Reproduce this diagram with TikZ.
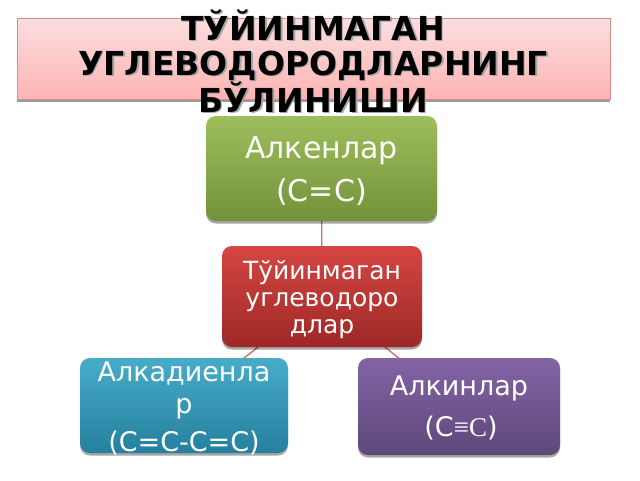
\documentclass[tikz,border=0pt]{standalone}
\usepackage{fontspec}
\setmainfont{DejaVu Sans}
\newfontfamily\serifsym{Liberation Serif}
\usetikzlibrary{shadows}
\pgfdeclarelayer{background}
\pgfsetlayers{background,main}
\definecolor{linkc}{RGB}{205,105,105}
\definecolor{tborder}{RGB}{215,140,140}
\definecolor{ttop}{RGB}{250,222,222}
\definecolor{tbot}{RGB}{255,180,180}
\definecolor{gtop}{RGB}{158,190,92}
\definecolor{gbot}{RGB}{116,146,58}
\definecolor{rtop}{RGB}{212,70,66}
\definecolor{rbot}{RGB}{158,40,38}
\definecolor{ctop}{RGB}{72,172,200}
\definecolor{cbot}{RGB}{36,128,158}
\definecolor{ptop}{RGB}{130,100,165}
\definecolor{pbot}{RGB}{94,72,122}
\begin{document}
\begin{tikzpicture}[x=1pt,y=-1pt,
  box/.style={rounded corners=10pt, inner sep=0pt,
    drop shadow={shadow xshift=0pt,shadow yshift=-2.5pt,opacity=0.35,fill=black}},
  lbl/.style={text=white, align=center, inner sep=0pt},
  link/.style={draw=linkc, line width=1.3pt}]
\useasboundingbox (0,0) rectangle (640,480);
% title
\node[draw=tborder, line width=0.8pt, top color=ttop, bottom color=tbot,
  minimum width=593pt, minimum height=81pt, inner sep=0pt,
  drop shadow={shadow xshift=0pt,shadow yshift=-2.5pt,opacity=0.4,fill=black}]
  (titlebox) at (313.5,58.5) {};
\node[align=center, inner sep=0pt, text=black!35, font=\bfseries\fontsize{33}{35}\selectfont]
  (titleshadow) at (314.5,62.5) {ТЎЙИНМАГАН\\УГЛЕВОДОРОДЛАРНИНГ\\БЎЛИНИШИ};
\node[align=center, inner sep=0pt, text=black, font=\bfseries\fontsize{33}{35}\selectfont]
  (title) at (313,61) {ТЎЙИНМАГАН\\УГЛЕВОДОРОДЛАРНИНГ\\БЎЛИНИШИ};
% boxes
\node[box, top color=gtop, bottom color=gbot, minimum width=231pt, minimum height=105pt]
  (alken) at (321.5,168.5) {};
\node[box, top color=rtop, bottom color=rbot, minimum width=200pt, minimum height=101pt]
  (tuy) at (322,296.5) {};
\node[box, top color=ctop, bottom color=cbot, minimum width=208pt, minimum height=95pt]
  (alkad) at (184,405.5) {};
\node[box, top color=ptop, bottom color=pbot, minimum width=202pt, minimum height=97pt]
  (alkin) at (459,406.5) {};
% labels
\node[lbl, font=\fontsize{30}{32}\selectfont] (alkenT) at (321.5,171)
  {Алкенлар\\[11pt](C=C)};
\node[lbl, font=\fontsize{25}{27}\selectfont] (tuyT) at (322,300)
  {Тўйинмаган\\углеводоро\\длар};
\node[lbl, font=\fontsize{27}{32}\selectfont] (alkadT) at (184,408)
  {Алкадиенла\\р\\[6pt](C=C-C=C)};
\node[lbl, font=\fontsize{27}{30}\selectfont] (alkinT) at (459,388)
  {Алкинлар};
\node[lbl, font=\fontsize{27}{30}\selectfont] (alkinF) at (461,428)
  {(C{\serifsym ≡C})};
% links
\begin{pgfonlayer}{background}
\draw[link] (alken.center) -- (tuy.center);
\draw[link] (tuy.center) -- (alkad.center);
\draw[link] (tuy.center) -- (alkin.center);
\end{pgfonlayer}
\end{tikzpicture}
\end{document}
